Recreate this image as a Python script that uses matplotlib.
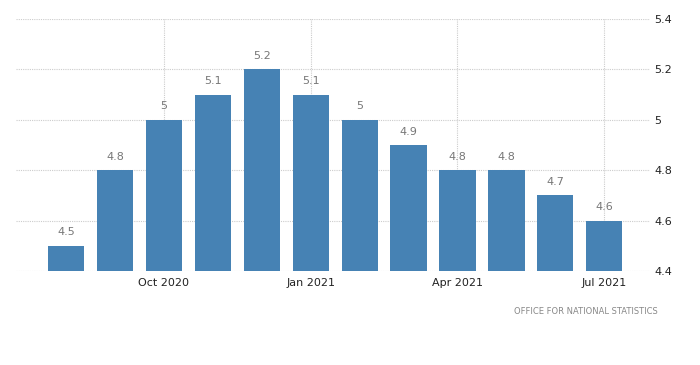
import matplotlib
matplotlib.use("Agg")
import matplotlib.pyplot as plt

months = ["Aug 2020", "Sep 2020", "Oct 2020", "Nov 2020", "Dec 2020", "Jan 2021",
          "Feb 2021", "Mar 2021", "Apr 2021", "May 2021", "Jun 2021", "Jul 2021"]
values = [4.5, 4.8, 5.0, 5.1, 5.2, 5.1, 5.0, 4.9, 4.8, 4.8, 4.7, 4.6]
value_labels = ["4.5", "4.8", "5", "5.1", "5.2", "5.1", "5", "4.9", "4.8", "4.8", "4.7", "4.6"]
tick_labels = ["Oct 2020", "Jan 2021", "Apr 2021", "Jul 2021"]
yticks = [4.4, 4.6, 4.8, 5.0, 5.2, 5.4]
ytick_labels = ["4.4", "4.6", "4.8", "5", "5.2", "5.4"]
source = "OFFICE FOR NATIONAL STATISTICS"

plt.rcParams['font.family'] = ['DejaVu Sans']
fig = plt.figure(figsize=(7, 3.65), dpi=100)
ax = fig.add_axes([0.023, 0.2575, 0.906, 0.6905])

x = list(range(len(months)))
base = 4.4
bars = ax.bar(x, [v - base for v in values], bottom=base, width=0.74,
              color="#4682b4", zorder=3)
for xi, v, lab in zip(x, values, value_labels):
    ax.annotate(lab, (xi, v), xytext=(0, 6), textcoords="offset points",
                ha="center", va="bottom", fontsize=8, color="#777777")

ax.set_ylim(4.4, 5.4)
ax.set_xlim(-1.02, 11.94)
ax.yaxis.tick_right()
ax.set_yticks(yticks)
ax.set_yticklabels(ytick_labels)
tick_pos = [months.index(t) for t in tick_labels]
ax.set_xticks(tick_pos)
ax.set_xticklabels(tick_labels)
ax.tick_params(axis="both", length=0, labelsize=8, colors="#222222")
ax.tick_params(axis="y", pad=3)
ax.tick_params(axis="x", pad=5)
for s in ax.spines.values():
    s.set_visible(False)
ax.grid(True, which="major", axis="both", color="#cccccc", linestyle=(0, (1, 1)),
        linewidth=0.8, zorder=0)
ax.set_axisbelow(True)

fig.text(0.94, 1 - 311 / 365, source, ha="right", va="center", fontsize=6,
         color="#888888")

fig.savefig("out.png", dpi=100, facecolor="white")
